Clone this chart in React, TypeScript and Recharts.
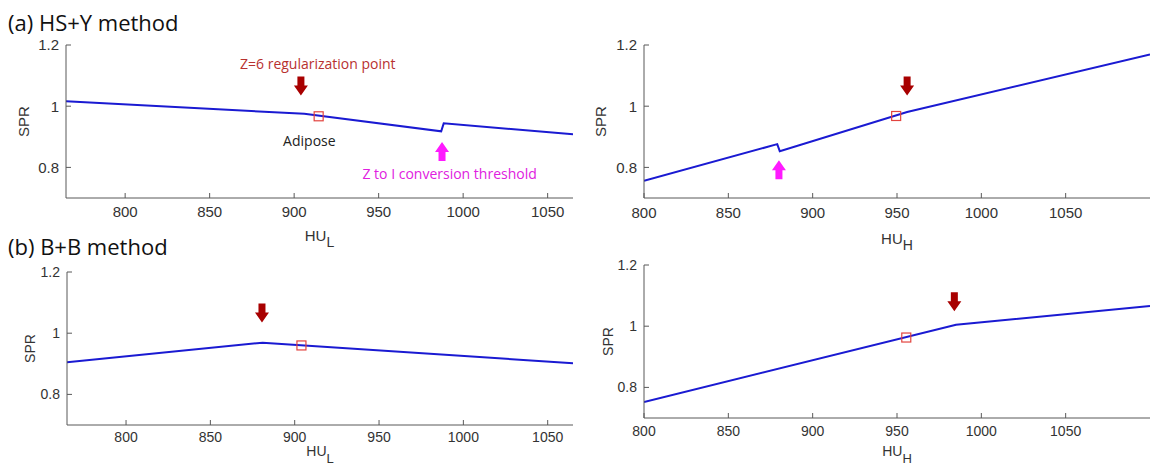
import React from "react";
import { ComposedChart, Line, Scatter, XAxis, YAxis, ReferenceDot } from "recharts";

// (a) HS+Y method, SPR against HU_L and HU_H
const hsyLowHU = [765, 906, 987, 988.5, 1065];
const hsyLowSPR = [1.016, 0.975, 0.918, 0.944, 0.908];
const hsyHighHU = [800, 879, 880.5, 956, 1100];
const hsyHighSPR = [0.756, 0.876, 0.853, 0.981, 1.169];

// (b) B+B method
const bbLowHU = [765, 881, 1065];
const bbLowSPR = [0.905, 0.969, 0.902];
const bbHighHU = [800, 985, 1100];
const bbHighSPR = [0.752, 1.005, 1.066];

// adipose square, one per panel (a-left, a-right, b-left, b-right)
const adiposeHU = [914.5, 949.5, 904, 955.5];
const adiposeSPR = [0.967, 0.968, 0.96, 0.963];

// Z=6 regularization point arrows (red), Z to I threshold arrows (magenta, only in a)
const regArrowHU = [904, 956, 880.6, 984];
const regArrowSPR = [1.066, 1.066, 1.066, 1.08];
const convArrowHU = [987.5, 880];
const convArrowSPR = [0.852, 0.792];

const huTicks = [800, 850, 900, 950, 1000, 1050];
const sprTicks = [0.8, 1, 1.2];
const sprDomain: [number, number] = [0.7, 1.2];

const TICK_FONT = "'Liberation Sans', Arial, sans-serif";
const NOTE_FONT = "'Open Sans', sans-serif";
const BOX = "#595959";
const LINE = "#1a1ad2";
const Y_W = 50;
const X_H = 40;

const toRows = (hu: number[], spr: number[]) => hu.map((h, i) => ({ hu: h, spr: spr[i] }));

const square = (p: any) => (
  <rect x={p.cx - 4.5} y={p.cy - 4.5} width={9} height={9} fill="none" stroke="#e2443f" strokeWidth={1.2} />
);

const arrow = (color: string, up: boolean) => (p: any) => {
  const { cx, cy } = p;
  const s = up ? -1 : 1;
  const pts = [
    [cx - 3.5, cy - 9.5 * s],
    [cx + 3.5, cy - 9.5 * s],
    [cx + 3.5, cy - 0.5 * s],
    [cx + 7, cy - 0.5 * s],
    [cx, cy + 9.5 * s],
    [cx - 7, cy - 0.5 * s],
    [cx - 3.5, cy - 0.5 * s],
  ];
  return <polygon points={pts.map((q) => q.join(",")).join(" ")} fill={color} />;
};

const note = (text: string, color: string) => (p: any) => (
  <text x={p.cx} y={p.cy} textAnchor="middle" dominantBaseline="central" fill={color} fontSize={14} fontFamily={NOTE_FONT}>
    {text}
  </text>
);

type PanelProps = {
  left: number;
  top: number;
  width: number;
  height: number;
  plot: { left: number; top: number; right: number; bottom: number };
  hu: number[];
  spr: number[];
  domain: [number, number];
  idx: number;
  sub: string;
  fontSize: number;
  tickGap: number;
  yLabelDist: number;
  xLabelDist: number;
  conv?: number;
  notes?: boolean;
};

function Panel(props: PanelProps) {
  const { left, top, width, height, plot, hu, spr, domain, idx, sub, fontSize, tickGap, yLabelDist, xLabelDist } = props;
  const tickStyle = { fill: "#333", fontSize, fontFamily: TICK_FONT };
  return (
    <div style={{ position: "absolute", left, top, width, height }}>
      <ComposedChart
        width={width}
        height={height}
        data={toRows(hu, spr)}
        margin={{ top: plot.top, left: plot.left - Y_W, right: width - plot.right, bottom: height - plot.bottom - X_H }}
      >
        <XAxis
          dataKey="hu"
          type="number"
          domain={domain}
          ticks={huTicks}
          allowDataOverflow
          height={X_H}
          tickSize={-5}
          tickMargin={5 + tickGap}
          tick={tickStyle}
          stroke={BOX}
          label={{
            content: (lp: any) => {
              const vb = lp.viewBox;
              return (
                <text x={vb.x + vb.width / 2} y={vb.y + xLabelDist} textAnchor="middle" dominantBaseline="central" fill="#333" fontFamily={TICK_FONT} fontSize={fontSize}>
                  HU
                  <tspan dy={7} fontSize={fontSize - 1}>
                    {sub}
                  </tspan>
                </text>
              );
            },
          }}
        />
        <XAxis xAxisId="top" orientation="top" type="number" domain={domain} ticks={huTicks} allowDataOverflow height={0} tickSize={-5} tick={false} stroke={BOX} />
        <YAxis
          type="number"
          domain={sprDomain}
          ticks={sprTicks}
          allowDataOverflow
          width={Y_W}
          tickSize={-5}
          tickMargin={12}
          tick={tickStyle}
          stroke={BOX}
          label={{
            content: (lp: any) => {
              const vb = lp.viewBox;
              const x = vb.x + vb.width - yLabelDist;
              const y = vb.y + vb.height / 2;
              return (
                <text x={x} y={y} transform={`rotate(-90 ${x} ${y})`} textAnchor="middle" dominantBaseline="central" fill="#333" fontFamily={TICK_FONT} fontSize={fontSize}>
                  SPR
                </text>
              );
            },
          }}
        />
        <YAxis yAxisId="right" orientation="right" type="number" domain={sprDomain} ticks={sprTicks} allowDataOverflow width={0} tickSize={-5} tick={false} stroke={BOX} />
        <Line dataKey="spr" type="linear" stroke={LINE} strokeWidth={2} dot={false} isAnimationActive={false} />
        <Scatter data={[{ hu: adiposeHU[idx], spr: adiposeSPR[idx] }]} dataKey="spr" shape={square} isAnimationActive={false} />
        <ReferenceDot x={regArrowHU[idx]} y={regArrowSPR[idx]} r={1} ifOverflow="visible" shape={arrow("#a80000", false)} />
        {props.conv !== undefined && (
          <ReferenceDot x={convArrowHU[props.conv]} y={convArrowSPR[props.conv]} r={1} ifOverflow="visible" shape={arrow("#ff1aff", true)} />
        )}
        {props.notes && <ReferenceDot x={914} y={1.14} r={1} ifOverflow="visible" shape={note("Z=6 regularization point", "#b8312f")} />}
        {props.notes && <ReferenceDot x={909} y={0.888} r={1} ifOverflow="visible" shape={note("Adipose", "#222")} />}
        {props.notes && <ReferenceDot x={992} y={0.779} r={1} ifOverflow="visible" shape={note("Z to I conversion threshold", "#e020e0")} />}
      </ComposedChart>
    </div>
  );
}

const titleStyle: React.CSSProperties = {
  position: "absolute",
  left: 8,
  fontFamily: NOTE_FONT,
  fontSize: 22,
  lineHeight: "22px",
  color: "#111",
  whiteSpace: "nowrap",
};

export default function App() {
  return (
    <div style={{ position: "absolute", left: 0, top: 0, width: 1150, height: 475, background: "#fff", overflow: "hidden" }}>
      <div style={{ ...titleStyle, top: 11 }}>(a) HS+Y method</div>
      <div style={{ ...titleStyle, top: 235 }}>(b) B+B method</div>
      <Panel
        left={0}
        top={0}
        width={580}
        height={262}
        plot={{ left: 66, top: 45, right: 573, bottom: 198 }}
        hu={hsyLowHU}
        spr={hsyLowSPR}
        domain={[765, 1065]}
        idx={0}
        sub="L"
        fontSize={15}
        tickGap={8}
        yLabelDist={43}
        xLabelDist={37}
        conv={0}
        notes
      />
      <Panel
        left={580}
        top={0}
        width={570}
        height={262}
        plot={{ left: 64, top: 45, right: 570, bottom: 198 }}
        hu={hsyHighHU}
        spr={hsyHighSPR}
        domain={[800, 1100]}
        idx={1}
        sub="H"
        fontSize={15}
        tickGap={9}
        yLabelDist={44}
        xLabelDist={40}
        conv={1}
      />
      <Panel
        left={0}
        top={250}
        width={580}
        height={225}
        plot={{ left: 67, top: 22, right: 573, bottom: 175 }}
        hu={bbLowHU}
        spr={bbLowSPR}
        domain={[765, 1065]}
        idx={2}
        sub="L"
        fontSize={14}
        tickGap={7}
        yLabelDist={37}
        xLabelDist={26}
      />
      <Panel
        left={580}
        top={250}
        width={570}
        height={225}
        plot={{ left: 64, top: 15, right: 570, bottom: 168 }}
        hu={bbHighHU}
        spr={bbHighSPR}
        domain={[800, 1100]}
        idx={3}
        sub="H"
        fontSize={14}
        tickGap={8}
        yLabelDist={36}
        xLabelDist={33}
      />
    </div>
  );
}
